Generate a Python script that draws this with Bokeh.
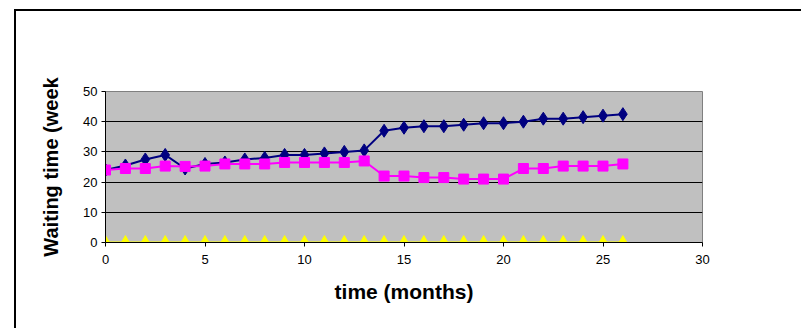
from bokeh.plotting import figure
from bokeh.models import FixedTicker, Legend, LegendItem, Label
from bokeh.embed import file_html
from bokeh.resources import INLINE

months = list(range(27))
h1 = [24, 25.5, 27.5, 29, 24.5, 26, 26.5, 27.5, 28, 29, 29, 29.5, 30, 30.5,
      37, 38, 38.5, 38.5, 39, 39.5, 39.5, 40, 41, 41, 41.5, 42, 42.5]
h2 = [24, 24.5, 24.5, 25.3, 25.2, 25.3, 26, 26, 26, 26.5, 26.5, 26.5, 26.5, 27,
      22, 22, 21.5, 21.5, 21, 21, 21, 24.5, 24.5, 25.3, 25.3, 25.3, 26]
h3 = [0] * 27
x_ticks = [0, 5, 10, 15, 20, 25, 30]
y_ticks = [0, 10, 20, 30, 40, 50]
title_text = "Waiting Times"

FONT = "Liberation Sans"

p = figure(width=787, height=319, x_range=(0, 30), y_range=(0, 50),
           output_backend="svg", toolbar_location=None,
           min_border_left=89, min_border_right=101,
           min_border_top=80, min_border_bottom=88)
p.margin = (9, 0, 0, 14)
p.styles = {"border-left": "2px solid #000000", "border-top": "2px solid #000000"}

p.background_fill_color = "#C0C0C0"
p.border_fill_color = "#FFFFFF"
p.outline_line_color = "#808080"
p.outline_line_width = 1

p.xgrid.visible = False
p.ygrid.grid_line_color = "#000000"
p.ygrid.grid_line_width = 1
p.ygrid.ticker = FixedTicker(ticks=[10, 20, 30, 40])

for ax in (p.xaxis[0], p.yaxis[0]):
    ax.axis_line_color = "#000000"
    ax.major_tick_line_color = "#000000"
    ax.major_tick_out = 4
    ax.major_tick_in = 0
    ax.minor_tick_line_color = None
    ax.major_label_text_font = FONT
    ax.major_label_text_font_size = "13px"
    ax.major_label_text_color = "#000000"
    ax.axis_label_text_font = FONT
    ax.axis_label_text_font_style = "bold"
    ax.axis_label_text_color = "#000000"

p.xaxis.ticker = FixedTicker(ticks=x_ticks)
p.yaxis.ticker = FixedTicker(ticks=y_ticks)
p.xaxis.axis_label = "time (months)"
p.yaxis.axis_label = "Waiting time (week"
p.xaxis.axis_label_text_font_size = "21px"
p.yaxis.axis_label_text_font_size = "20px"
p.xaxis.major_label_standoff = 8
p.yaxis.major_label_standoff = 4
p.xaxis.axis_label_standoff = 13
p.yaxis.axis_label_standoff = 18

l1 = p.line(months, h1, line_color="#000080", line_width=2)
s1 = p.scatter(months, h1, marker="diamond", size=13, fill_color="#000080", line_color="#000080")
l2 = p.line(months, h2, line_color="#FF00FF", line_width=2)
s2 = p.scatter(months, h2, marker="square", size=10, fill_color="#FF00FF", line_color="#FF00FF")
l3 = p.line(months, h3, line_color="#FFFF00", line_width=2)
s3 = p.scatter(months, h3, marker="triangle", size=12, fill_color="#FFFF00", line_color="#FFFF00")

legend = Legend(items=[
    LegendItem(label="H1", renderers=[l1, s1]),
    LegendItem(label="H2", renderers=[l2, s2]),
    LegendItem(label="H3", renderers=[l3, s3]),
], location=(623, 40))
legend.margin = 0
legend.padding = 4
legend.spacing = 4
legend.label_height = 19
legend.glyph_height = 19
legend.glyph_width = 40
legend.label_standoff = 6
legend.label_text_font = FONT
legend.label_text_font_size = "13px"
legend.border_line_color = "#000000"
legend.border_line_width = 1
legend.background_fill_color = "#FFFFFF"
legend.background_fill_alpha = 1
p.add_layout(legend, "center")

p.add_layout(Label(x=15.6, y=69.2, text=title_text, text_align="center",
                   text_baseline="middle", text_font=FONT, text_font_size="21px",
                   text_font_style="bold", text_color="#000000"))

open("out.html", "w").write(file_html(p, INLINE))
